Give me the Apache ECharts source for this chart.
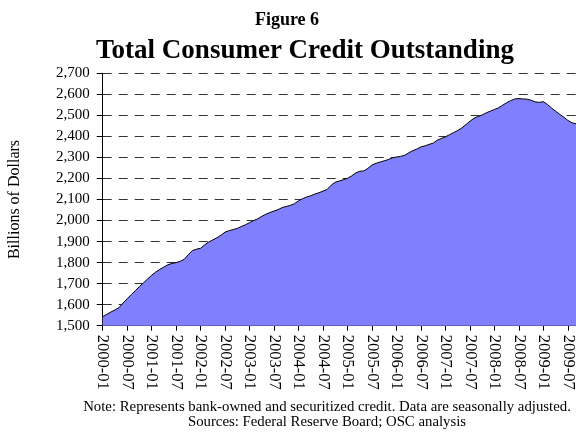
<!DOCTYPE html>
<html>
<head>
<meta charset="utf-8">
<script src="https://cdn.jsdelivr.net/npm/echarts@6/dist/echarts.min.js"></script>
<style>
  html, body { margin: 0; padding: 0; background: #fff; }
  #chart { width: 576px; height: 445px; }
</style>
</head>
<body>
<div id="chart"></div>
<script>
// monthly, 2000-01 .. 2009-09, billions of dollars
var startYear = 2000;
var creditValues = [
  1543, 1554, 1565, 1575, 1586, 1608, 1628, 1648, 1666, 1686, 1704, 1722,
  1740, 1755, 1768, 1779, 1790, 1796, 1800, 1806, 1816, 1838, 1857, 1864,
  1868, 1885, 1898, 1908, 1918, 1930, 1945, 1952, 1957, 1963, 1972, 1980,
  1990, 2000, 2008, 2020, 2030, 2038, 2045, 2052, 2062, 2067, 2072, 2080,
  2094, 2104, 2112, 2118, 2126, 2132, 2140, 2148, 2168, 2182, 2188, 2194,
  2201, 2212, 2226, 2234, 2236, 2248, 2264, 2272, 2278, 2284, 2290, 2298,
  2302, 2305, 2310, 2322, 2332, 2340, 2350, 2355, 2362, 2368, 2382, 2390,
  2398, 2408, 2418, 2428, 2440, 2456, 2472, 2486, 2495, 2502, 2512, 2520,
  2528, 2536, 2548, 2560, 2570, 2578, 2580, 2578, 2577, 2572, 2564, 2562,
  2565, 2552, 2535, 2520, 2505, 2492, 2476, 2465, 2460
];
var yTicks = { min: 1500, max: 2700, step: 100 };

var months = [];
for (var i = 0; i < creditValues.length; i++) {
  var y = startYear + Math.floor(i / 12);
  var m = (i % 12) + 1;
  months.push(y + '-' + (m < 10 ? '0' + m : m));
}

var serif = '"Liberation Serif", "Times New Roman", serif';
var chart = echarts.init(document.getElementById('chart'));

var option = {
  animation: false,
  title: [
    {
      text: 'Figure 6',
      left: 282, top: 6, textAlign: 'center',
      textStyle: { fontFamily: serif, fontSize: 18, fontWeight: 'bold', color: '#000' }
    },
    {
      text: 'Total Consumer Credit Outstanding',
      left: 300, top: 33, textAlign: 'center',
      textStyle: { fontFamily: serif, fontSize: 27, fontWeight: 'bold', color: '#000' }
    },
    {
      text: 'Note: Represents bank-owned and securitized credit. Data are seasonally adjusted.\nSources: Federal Reserve Board; OSC analysis',
      left: 322, top: 395, textAlign: 'center',
      textStyle: { fontFamily: serif, fontSize: 14.8, fontWeight: 'normal', color: '#000', lineHeight: 15, align: 'center' }
    }
  ],
  grid: { left: 102.7, right: 0, top: 73.3, bottom: 119.3, outerBoundsMode: 'none' },
  xAxis: {
    type: 'category',
    boundaryGap: false,
    data: months,
    axisLine: { lineStyle: { color: '#000', width: 1 } },
    axisTick: { interval: 5, length: 5, lineStyle: { color: '#000' } },
    axisLabel: {
      interval: 5, rotate: -90, margin: 9,
      fontFamily: serif, fontSize: 16.5, color: '#000'
    },
    splitLine: { show: false }
  },
  yAxis: {
    type: 'value',
    min: yTicks.min, max: yTicks.max, interval: yTicks.step,
    name: 'Billions of Dollars',
    nameLocation: 'middle', nameRotate: 90, nameGap: 80,
    nameTextStyle: { fontFamily: serif, fontSize: 16, color: '#000' },
    axisLine: { show: true, lineStyle: { color: '#000', width: 1 } },
    axisTick: { show: true, length: 6, lineStyle: { color: '#000' } },
    axisLabel: {
      margin: 13, fontFamily: serif, fontSize: 15, color: '#000',
      formatter: function (v) { return v.toLocaleString('en-US'); }
    },
    splitLine: { show: true, lineStyle: { color: '#333', type: [9, 7], width: 1 } }
  },
  series: [
    {
      type: 'line',
      data: creditValues,
      symbol: 'none',
      lineStyle: { color: '#000', width: 1 },
      areaStyle: { color: '#8080FF', opacity: 1 },
      z: 1
    }
  ]
};
chart.setOption(option);
</script>
</body>
</html>
